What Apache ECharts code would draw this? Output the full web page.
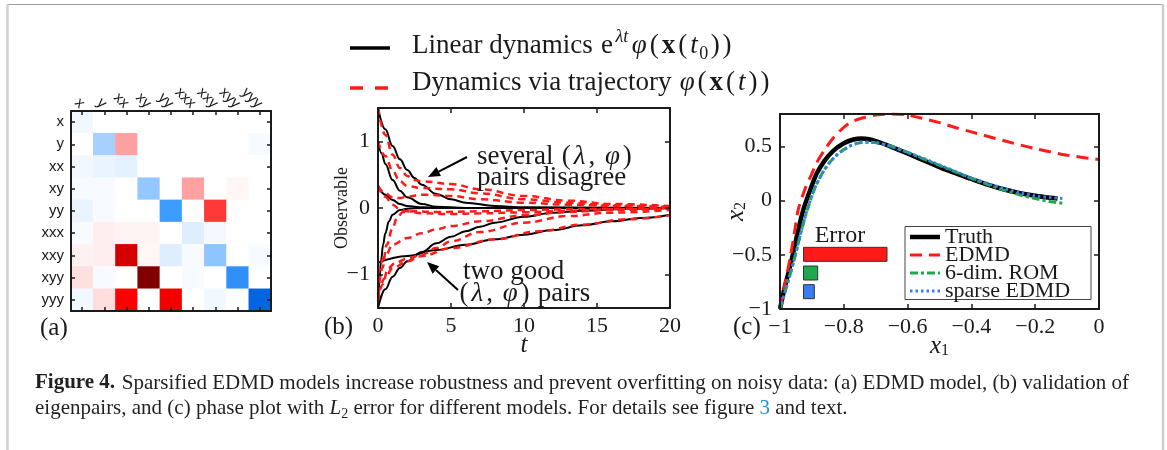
<!DOCTYPE html>
<html><head><meta charset="utf-8">
<script src="https://cdn.jsdelivr.net/npm/echarts@6/dist/echarts.min.js"></script>
<style>html,body{margin:0;padding:0;background:#fff}#c{width:1167px;height:450px}</style>
</head><body><div id="c"></div>
<script>
// ---------- data ----------
const heatLabels = ['x','y','xx','xy','yy','xxx','xxy','xyy','yyy'];
const rowX   = [-0.05,0,0,0,0,0,0,0,0];
const rowY   = [0,-0.33,0.33,0,0,0,0,0,-0.03];
const rowXX  = [-0.05,-0.08,-0.1,0,0,0,0,0,0];
const rowXY  = [-0.03,-0.03,0,-0.39,0,0.33,0,0.03,0];
const rowYY  = [-0.08,-0.03,0,0,-0.67,0,0.55,0,0];
const rowXXX = [-0.03,0.06,0.04,0.04,0,-0.12,-0.04,0,0];
const rowXXY = [0.05,0.06,0.78,0.03,-0.12,-0.03,-0.41,0,-0.03];
const rowXYY = [0.11,-0.03,0,1.0,0,-0.03,0,-0.74,0];
const rowYYY = [-0.05,0.12,0.67,0,0.7,0,-0.05,0,-0.97];
const heatRows = [rowX,rowY,rowXX,rowXY,rowYY,rowXXX,rowXXY,rowXYY,rowYYY];

const tTicks = [0,5,10,15,20];
const obsTicks = [-1,0,1];
// linear dynamics (black)
const linA = [[0,1.5],[0.5,1.18],[1,0.93],[1.5,0.73],[2,0.57],[2.5,0.45],[3,0.35],[4,0.21],[5,0.13],[6,0.08],[8,0.03],[10,0.01],[20,0]];
const linB = [[0,1.0],[0.25,0.82],[0.5,0.66],[1,0.42],[1.5,0.26],[2,0.16],[3,0.06],[4,0.02],[6,0],[20,0]];
const linC = [[0,0.33],[0.5,0.2],[1,0.12],[1.5,0.06],[2,0.03],[3,0.01],[5,0],[20,0]];
const linD = [[0,-1.5],[0.1,-1.1],[0.2,-0.8],[0.35,-0.55],[0.5,-0.38],[0.75,-0.2],[1,-0.1],[1.5,-0.03],[2,-0.01],[3,0],[20,0]];
const linE = [[0,-1.5],[0.5,-1.22],[1,-1.03],[1.5,-0.9],[2,-0.8],[3,-0.66],[4,-0.53],[5,-0.43],[6,-0.35],[7,-0.28],[8,-0.22],[10,-0.13],[12,-0.07],[14,-0.04],[17,-0.015],[20,0]];
const linF = [[0,-0.82],[2,-0.72],[4,-0.63],[6,-0.55],[8,-0.47],[10,-0.4],[12,-0.33],[14,-0.26],[16,-0.2],[18,-0.15],[20,-0.1]];
// dynamics via trajectory (red dashed)
const trajA = [[0,1.5],[0.5,1.1],[1,0.8],[1.5,0.6],[2,0.48],[2.5,0.42],[3,0.4],[5,0.36],[7,0.28],[10,0.18],[13,0.11],[16,0.06],[20,0.03]];
const trajB = [[0,1.0],[0.5,0.78],[1,0.56],[1.5,0.4],[2,0.33],[3,0.3],[5,0.28],[7,0.22],[10,0.13],[13,0.08],[16,0.04],[20,0.02]];
const trajC = [[0,0.33],[0.5,0.22],[1,0.16],[1.5,0.15],[2,0.17],[3,0.2],[5,0.18],[7,0.13],[10,0.08],[13,0.05],[16,0.03],[20,0.01]];
const trajD = [[0,0.33],[0.5,0.17],[1,0.05],[1.5,-0.02],[2,-0.05],[3,-0.08],[5,-0.09],[7,-0.08],[10,-0.065],[13,-0.04],[16,-0.02],[20,-0.01]];
const trajE = [[0,-1.3],[0.3,-0.9],[0.6,-0.55],[1,-0.3],[1.3,-0.15],[1.7,-0.06],[2.5,-0.05],[4,-0.06],[7,-0.05],[10,-0.03],[14,-0.015],[20,0]];
const trajF = [[0,-1.0],[0.5,-0.72],[1,-0.55],[2,-0.45],[3,-0.38],[4,-0.32],[5,-0.27],[7,-0.2],[10,-0.11],[13,-0.06],[16,-0.03],[20,-0.01]];
const trajG = [[0,-1.4],[0.3,-1.15],[0.7,-0.9],[1.2,-0.82],[2,-0.76],[3,-0.7],[4,-0.6],[5,-0.5],[7,-0.36],[10,-0.22],[13,-0.12],[16,-0.07],[20,-0.03]];
const trajH = [[0,-1.3],[0.5,-1.05],[1,-0.9],[2,-0.8],[3,-0.72],[5,-0.6],[8,-0.47],[11,-0.35],[14,-0.25],[17,-0.17],[20,-0.11]];
const linearCurves = [linA,linB,linC,linD,linE,linF];
const trajCurves = [trajA,trajB,trajC,trajD,trajE,trajF,trajG,trajH];

// phase plot
const x1Ticks = [-1,-0.8,-0.6,-0.4,-0.2,0];
const x2Ticks = [-1,-0.5,0,0.5];
const truthPts = [[-1,-1],[-0.985,-0.8],[-0.963,-0.54],[-0.945,-0.3],[-0.927,-0.085],[-0.905,0.1],[-0.885,0.25],[-0.86,0.37],[-0.833,0.46],[-0.8,0.53],[-0.77,0.565],[-0.745,0.575],[-0.718,0.565],[-0.68,0.53],[-0.645,0.49],[-0.6,0.435],[-0.561,0.385],[-0.5,0.31],[-0.457,0.26],[-0.4,0.2],[-0.352,0.15],[-0.3,0.105],[-0.248,0.07],[-0.2,0.045],[-0.154,0.027],[-0.13,0.02]];
const edmdPts = [[-1,-1],[-0.985,-0.78],[-0.969,-0.54],[-0.955,-0.3],[-0.943,-0.085],[-0.92,0.12],[-0.9,0.25],[-0.885,0.35],[-0.86,0.47],[-0.838,0.56],[-0.81,0.65],[-0.78,0.72],[-0.74,0.765],[-0.7,0.79],[-0.65,0.8],[-0.6,0.79],[-0.5,0.72],[-0.45,0.675],[-0.4,0.635],[-0.3,0.555],[-0.2,0.48],[-0.1,0.42],[0,0.38]];
const romPts = [[-1,-1],[-0.98,-0.8],[-0.955,-0.54],[-0.935,-0.3],[-0.915,-0.09],[-0.893,0.1],[-0.87,0.24],[-0.845,0.35],[-0.815,0.44],[-0.78,0.505],[-0.75,0.535],[-0.72,0.54],[-0.69,0.53],[-0.65,0.5],[-0.6,0.445],[-0.55,0.385],[-0.5,0.325],[-0.45,0.265],[-0.4,0.205],[-0.35,0.15],[-0.3,0.1],[-0.25,0.055],[-0.2,0.02],[-0.15,-0.01],[-0.11,-0.025]];
const sparsePts = [[-1,-1],[-0.98,-0.8],[-0.955,-0.54],[-0.935,-0.3],[-0.915,-0.09],[-0.893,0.1],[-0.87,0.24],[-0.845,0.35],[-0.815,0.44],[-0.78,0.505],[-0.75,0.535],[-0.72,0.54],[-0.69,0.53],[-0.65,0.5],[-0.6,0.445],[-0.55,0.39],[-0.5,0.33],[-0.45,0.27],[-0.4,0.21],[-0.35,0.16],[-0.3,0.115],[-0.25,0.075],[-0.2,0.045],[-0.15,0.028],[-0.11,0.02]];
const errModels = ['EDMD','6-dim. ROM','sparse EDMD'];
const errValues = [1.0, 0.18, 0.14];

// ---------- style ----------
const SERIF = 'Liberation Serif';
const SANS = 'Liberation Sans';
const INK = '#1a1a1a';
const RED = '#ff1a1a', GREEN = '#1fa84a', BLUE = '#3a7cf5';
const minus = v => String(v).replace('-', '\u2212');

function frameAxis(gi, pos, extra) {
  return Object.assign({
    gridIndex: gi, position: pos, z: 10, nameMoveOverlap: false,
    axisLine: {show: true, onZero: false, lineStyle: {color: INK, width: 2}},
    axisTick: {show: true, inside: true, length: 5, lineStyle: {color: INK, width: 1.5}},
    axisLabel: {show: false},
    splitLine: {show: false}
  }, extra);
}
const tick = vals => ({show: true, inside: true, length: 5, customValues: vals, lineStyle: {color: INK, width: 1.5}});
const lab = (vals, margin) => ({show: true, customValues: vals, formatter: minus, fontFamily: SERIF, fontSize: 22, color: INK, margin});
const subRich = {
  i: {fontFamily: SERIF, fontStyle: 'italic', fontSize: 25, color: INK, lineHeight: 26},
  s: {fontFamily: SERIF, fontSize: 16, color: INK, verticalAlign: 'bottom', lineHeight: 16}
};

const heatData = [];
heatRows.forEach((row, r) => row.forEach((v, c) => heatData.push([c, r, v])));

const catTick = {show: true, inside: true, length: 4, alignWithLabel: true, interval: 0, lineStyle: {color: INK, width: 1.5}};
const xAxes = [
  frameAxis(0, 'top', {type: 'category', data: heatLabels, axisTick: catTick,
    axisLabel: {show: true, interval: 0, rotate: 45, margin: 5, fontFamily: SANS, fontSize: 15, color: INK}}),
  frameAxis(0, 'bottom', {type: 'category', data: heatLabels, axisTick: catTick}),
  frameAxis(1, 'bottom', {type: 'value', min: 0, max: 20, interval: 5,
    axisLabel: {show: true, fontFamily: SERIF, fontSize: 22, color: INK, margin: 7},
    name: 't', nameLocation: 'middle', nameGap: 25,
    nameTextStyle: {fontFamily: SERIF, fontStyle: 'italic', fontSize: 25, color: INK}}),
  frameAxis(1, 'top', {type: 'value', min: 0, max: 20, interval: 5}),
  frameAxis(2, 'bottom', {type: 'value', min: -1, max: 0, axisTick: tick(x1Ticks), axisLabel: lab(x1Ticks, 7),
    name: '{i|x}{s|1}', nameLocation: 'middle', nameGap: 24, nameTextStyle: {rich: subRich}}),
  frameAxis(2, 'top', {type: 'value', min: -1, max: 0, axisTick: tick(x1Ticks)}),
  {gridIndex: 3, type: 'value', min: 0, max: 1, show: false}
];
const yAxes = [
  frameAxis(0, 'left', {type: 'category', data: heatLabels, inverse: true, axisTick: catTick,
    axisLabel: {show: true, interval: 0, margin: 7, fontFamily: SANS, fontSize: 15, color: INK}}),
  frameAxis(0, 'right', {type: 'category', data: heatLabels, inverse: true, axisTick: catTick}),
  frameAxis(1, 'left', {type: 'value', min: -1.5, max: 1.5, axisTick: tick(obsTicks), axisLabel: lab(obsTicks, 8),
    name: 'Observable', nameLocation: 'middle', nameRotate: 90, nameGap: 27,
    nameTextStyle: {fontFamily: SERIF, fontSize: 18, color: INK}}),
  frameAxis(1, 'right', {type: 'value', min: -1.5, max: 1.5, axisTick: tick(obsTicks)}),
  frameAxis(2, 'left', {type: 'value', min: -1, max: 0.8, axisTick: tick(x2Ticks), axisLabel: lab(x2Ticks, 8),
    name: '{i|x}{s|2}', nameLocation: 'middle', nameRotate: 90, nameGap: 31, nameTextStyle: {rich: subRich}}),
  frameAxis(2, 'right', {type: 'value', min: -1, max: 0.8, axisTick: tick(x2Ticks)}),
  {gridIndex: 3, type: 'category', data: errModels, inverse: true, show: false}
];

const series = [{
  type: 'heatmap', xAxisIndex: 0, yAxisIndex: 0, data: heatData, z: 1,
  itemStyle: {borderWidth: 0}, emphasis: {disabled: true}
}];
linearCurves.forEach(d => series.push({type: 'line', xAxisIndex: 2, yAxisIndex: 2, data: d,
  name: 'Linear dynamics', symbol: 'none', smooth: 0.4, smoothMonotone: 'x', lineStyle: {color: '#000', width: 2}, silent: true}));
trajCurves.forEach(d => series.push({type: 'line', xAxisIndex: 2, yAxisIndex: 2, data: d,
  name: 'Dynamics via trajectory', symbol: 'none', smooth: 0.4, smoothMonotone: 'x', lineStyle: {color: RED, width: 2.5, type: [7, 5]}, silent: true}));
const phase = [
  ['Truth', truthPts, {color: '#000', width: 4.5, type: 'solid'}],
  ['EDMD', edmdPts, {color: RED, width: 3, type: [12, 7]}],
  ['6-dim. ROM', romPts, {color: GREEN, width: 3, type: [8, 3, 3, 3]}],
  ['sparse EDMD', sparsePts, {color: BLUE, width: 3, type: [2.5, 3]}]
];
phase.forEach(([n, d, ls]) => series.push({type: 'line', name: n, xAxisIndex: 4, yAxisIndex: 4, data: d,
  symbol: 'none', smooth: 0.3, lineStyle: ls, itemStyle: {color: ls.color}, silent: true}));
series.push({type: 'bar', xAxisIndex: 6, yAxisIndex: 6, barWidth: 15, silent: true,
  data: errValues.map((v, i) => ({value: v, itemStyle: {color: [RED, GREEN, BLUE][i], borderColor: '#333', borderWidth: 1}}))});

// ---------- annotation helpers ----------
function text(x, y, t, o) {
  return {type: 'text', x, y, z: 100, silent: true,
    style: Object.assign({text: t, fill: INK, fontFamily: SERIF, fontSize: 27, align: 'left', verticalAlign: 'middle'}, o)};
}
function arrow(x1, y1, x2, y2) {
  const dx = x2 - x1, dy = y2 - y1, L = Math.hypot(dx, dy), ux = dx / L, uy = dy / L;
  const hl = 12, hw = 5;
  const bx = x2 - ux * hl, by = y2 - uy * hl;
  return [
    {type: 'line', z: 100, silent: true, shape: {x1, y1, x2: bx, y2: by}, style: {stroke: '#000', lineWidth: 2}},
    {type: 'polygon', z: 100, silent: true, shape: {points: [[x2, y2], [bx - uy * hw, by + ux * hw], [bx + uy * hw, by - ux * hw]]}, style: {fill: '#000'}}
  ];
}
// math tokens get a little side padding, imitating TeX math spacing
const mathRich = sz => {
  const lh = sz + 8, sm = Math.round(sz * 0.68), p = [0, 1.5, 0, 1.5];
  return {
    n: {fontFamily: SERIF, fontSize: sz, fill: INK, lineHeight: lh},
    m: {fontFamily: SERIF, fontSize: sz, fill: INK, lineHeight: lh, padding: p},
    i: {fontFamily: SERIF, fontSize: sz, fontStyle: 'italic', fill: INK, lineHeight: lh, padding: p},
    b: {fontFamily: SERIF, fontSize: sz, fontWeight: 'bold', fill: INK, lineHeight: lh, padding: p},
    sup: {fontFamily: SERIF, fontSize: sm, fontStyle: 'italic', fill: INK, lineHeight: Math.round(sz * 0.7), verticalAlign: 'top', padding: [0, 2, 0, 1]},
    sub: {fontFamily: SERIF, fontSize: sm, fill: INK, lineHeight: Math.round(sz * 0.7), verticalAlign: 'bottom', padding: [0, 1, 0, 0]}
  };
};
const capRich = {
  n: {fontFamily: SERIF, fontSize: 21, fill: '#231f20', lineHeight: 26},
  b: {fontFamily: SERIF, fontSize: 21, fontWeight: 'bold', fill: '#231f20', lineHeight: 26},
  i: {fontFamily: SERIF, fontSize: 21, fontStyle: 'italic', fill: '#231f20', lineHeight: 26},
  s: {fontFamily: SERIF, fontSize: 14, fill: '#231f20', lineHeight: 14, verticalAlign: 'bottom'},
  l: {fontFamily: SERIF, fontSize: 21, fill: '#2a8fd6', lineHeight: 26}
};

// legend of panel (c), drawn to match the line styles
const legendRows = phase.map(([n, d, ls], k) => {
  const y = 237 + k * 18;
  return [
    {type: 'line', z: 101, silent: true, shape: {x1: 910, y1: y, x2: 940, y2: y},
      style: {stroke: ls.color, lineWidth: ls.width, lineDash: ls.type === 'solid' ? null : ls.type}},
    text(945, y, n, {fontSize: 22})
  ];
}).flat();

const graphic = [
  {type: 'line', silent: true, shape: {x1: 7, y1: 4.5, x2: 1163, y2: 4.5}, style: {stroke: '#9c9c9c', lineWidth: 1}},
  {type: 'line', silent: true, shape: {x1: 7.5, y1: 4, x2: 7.5, y2: 450}, style: {stroke: '#cfcfcf', lineWidth: 2.5}},
  {type: 'line', silent: true, shape: {x1: 1163, y1: 4, x2: 1163, y2: 450}, style: {stroke: '#cfcfcf', lineWidth: 2.5}},
  // top legend for (b)
  {type: 'line', silent: true, shape: {x1: 350, y1: 48, x2: 390, y2: 48}, style: {stroke: '#000', lineWidth: 3.5}},
  {type: 'line', silent: true, shape: {x1: 350, y1: 88, x2: 390, y2: 88}, style: {stroke: RED, lineWidth: 3.5, lineDash: [13, 12]}},
  text(412, 46, '{n|Linear dynamics }{m|e}{sup|λt}{i|φ}{m|(}{b|x}{m|(}{i|t}{sub|0}{m|)}{m|)}', {rich: mathRich(27)}),
  text(412, 83, '{n|Dynamics via trajectory }{i|φ}{m|(}{b|x}{m|(}{i|t}{m|)}{m|)}', {rich: mathRich(27)}),
  // panel (b) annotations
  text(477, 157, '{n|several }{m|(}{i|λ}{m|,}{n| }{i|φ}{m|)}', {rich: mathRich(27)}),
  text(477, 178, 'pairs disagree'),
  text(463, 272, 'two good'),
  text(458, 294, '{m|(}{i|λ}{m|,}{n| }{i|φ}{m|)}{n| pairs}', {rich: mathRich(27)}),
  ...arrow(467, 157, 428, 177),
  ...arrow(458, 290, 427, 262),
  // panel labels
  text(40, 328, '(a)', {fontSize: 25}),
  text(324, 327, '(b)', {fontSize: 25}),
  text(733, 327, '(c)', {fontSize: 25}),
  // error inset
  text(840, 236, 'Error', {align: 'center', fontSize: 24}),
  // legend box (c)
  {type: 'rect', z: 100, silent: true, shape: {x: 905, y: 226.5, width: 186, height: 73}, style: {fill: '#fff', stroke: '#444', lineWidth: 1}},
  ...legendRows,
  // caption
  text(35, 383, '{b|Figure 4.} {n|Sparsified EDMD models increase robustness and prevent overfitting on noisy data: (a) EDMD model, (b) validation of}', {rich: capRich}),
  text(35, 408, '{n|eigenpairs, and (c) phase plot with }{i|L}{s|2}{n| error for different models. For details see figure }{l|3}{n| and text.}', {rich: capRich})
];

const chart = echarts.init(document.getElementById('c'), null, {renderer: 'canvas'});
chart.setOption({
  animation: false,
  backgroundColor: '#fff',
  grid: [
    {left: 71, top: 111, width: 200, height: 200},
    {left: 378, top: 108, width: 292, height: 200},
    {left: 780, top: 114, width: 319, height: 195},
    {left: 803, top: 245, width: 84.5, height: 56}
  ],
  xAxis: xAxes,
  yAxis: yAxes,
  visualMap: {type: 'continuous', min: -1, max: 1, seriesIndex: 0, show: false, calculable: false,
    inRange: {color: ['#0060dd', '#3d9dff', '#a6d0ff', '#ffffff', '#ffa0a0', '#ff0000', '#800000']}},
  series,
  graphic
});
</script></body></html>
